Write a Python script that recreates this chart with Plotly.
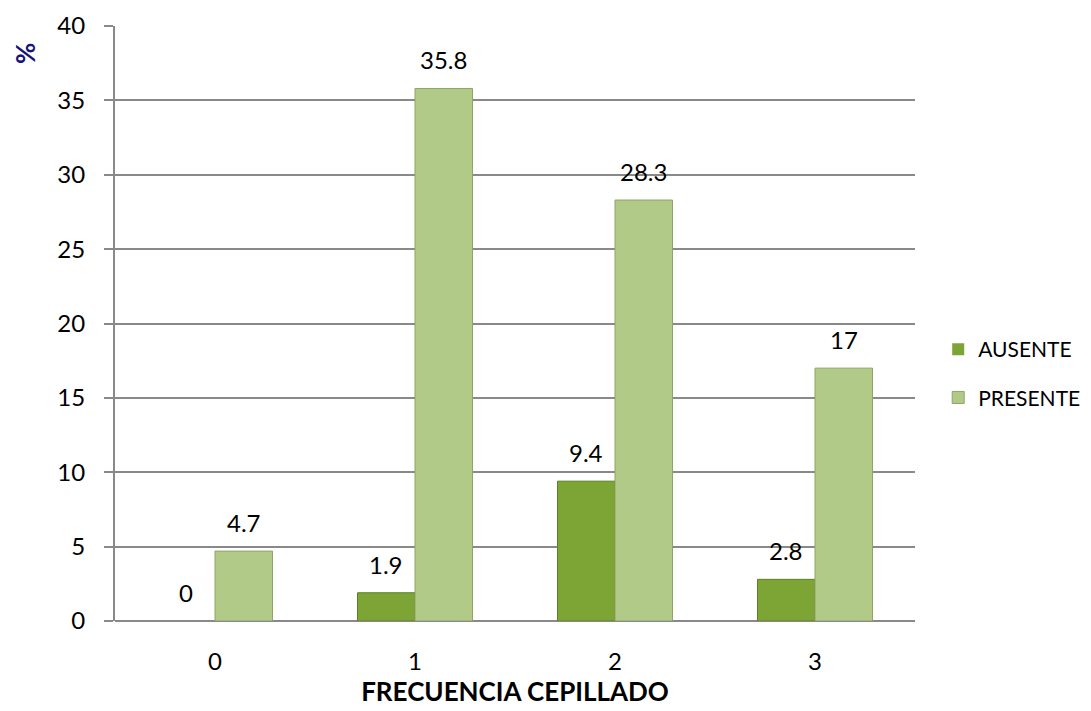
import plotly.graph_objects as go

# Frecuencia de cepillado (categorías) y porcentaje por grupo
categorias = [0, 1, 2, 3]
ausente = [0, 1.9, 9.4, 2.8]
presente = [4.7, 35.8, 28.3, 17]
y_ticks = [0, 5, 10, 15, 20, 25, 30, 35, 40]

FONT = "Lato, Open Sans, sans-serif"
GRID = "#898989"

# Pixel geometry of the plot area (used only for label offsets)
PLOT_W = 800
BARGAP = 0.425
bar_px = PLOT_W / len(categorias) * (1 - BARGAP) / 2

fig = go.Figure()
fig.add_trace(go.Bar(
    x=categorias, y=ausente, name="AUSENTE",
    marker=dict(color="#7DA536",
                line=dict(color="#5E7F24", width=[0 if v == 0 else 1 for v in ausente])),
    legendgroup="a",
))
fig.add_trace(go.Bar(
    x=categorias, y=presente, name="PRESENTE",
    marker=dict(color="#B2CA88",
                line=dict(color="#8EA463", width=[0 if v == 0 else 1 for v in presente])),
    legendgroup="p",
))

# Value labels above each bar
annotations = []
for serie, shift in ((ausente, -bar_px / 2), (presente, bar_px / 2)):
    for c, v in zip(categorias, serie):
        annotations.append(dict(
            x=c, y=v, xref="x", yref="y", text=f"{v:g}", showarrow=False,
            xshift=shift, yshift=12, yanchor="bottom",
            font=dict(family=FONT, size=24, color="#000000"),
        ))

# Y axis title, placed at the top left
annotations.append(dict(
    x=-0.1125, y=0.953, xref="paper", yref="paper", text="<b>%</b>",
    showarrow=False, textangle=-90, xanchor="center", yanchor="middle",
    font=dict(family=FONT, size=26, color="#14147A"),
))

fig.update_layout(
    width=1091, height=711,
    margin=dict(l=115, r=176, t=26, b=90, autoexpand=False),
    paper_bgcolor="white", plot_bgcolor="white",
    barmode="group", bargap=BARGAP, bargroupgap=0,
    font=dict(family=FONT, size=24, color="#000000"),
    showlegend=True,
    legend=dict(
        x=1.029, y=0.416, xanchor="left", yanchor="middle",
        font=dict(family=FONT, size=21, color="#000000"),
        tracegroupgap=18, itemwidth=30,
    ),
    annotations=annotations,
    xaxis=dict(
        range=[-0.5, 3.5], tickmode="array", tickvals=categorias,
        ticktext=[str(c) for c in categorias],
        showgrid=False, zeroline=False, showline=False,
        ticks="", ticklabelstandoff=24, tickfont=dict(size=24),
        title=dict(text="<b>FRECUENCIA CEPILLADO</b>",
                   font=dict(family=FONT, size=26, color="#000000"),
                   standoff=6),
    ),
    yaxis=dict(
        range=[0, 40], tickmode="array", tickvals=y_ticks,
        showgrid=True, gridcolor=GRID, gridwidth=1.5,
        zeroline=True, zerolinecolor=GRID, zerolinewidth=2,
        showline=True, linecolor=GRID, linewidth=2,
        ticks="outside", ticklen=9, tickcolor=GRID, tickwidth=1.5,
        ticklabelstandoff=14, tickfont=dict(size=24),
    ),
)

fig.write_html("out.html")
